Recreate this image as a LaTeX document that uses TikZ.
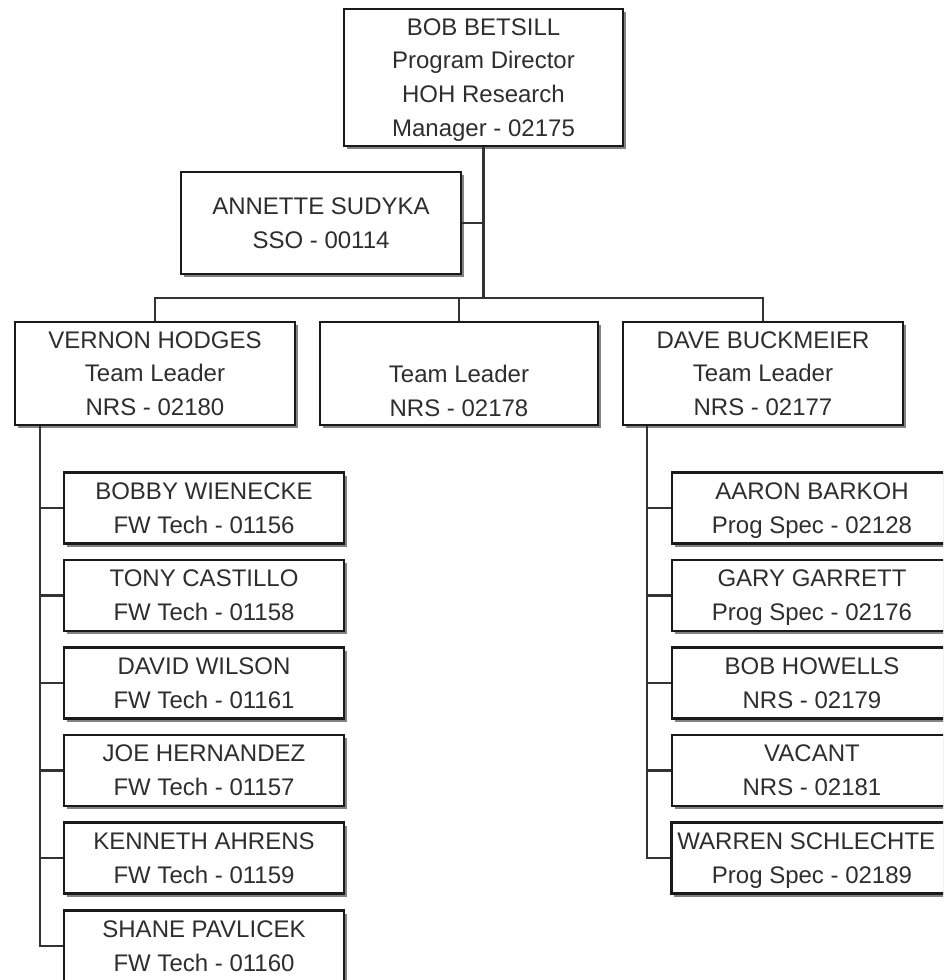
\documentclass[tikz,border=0pt]{standalone}
\usepackage{fontspec}
\setmainfont{Liberation Sans}
\usetikzlibrary{shadows}
\definecolor{txt}{HTML}{2E2E2E}
\definecolor{edge}{HTML}{1A1A1A}
\definecolor{wire}{HTML}{333333}
\begin{document}
\begin{tikzpicture}[x=1pt,y=-1pt,
  card/.style={draw=edge,line width=2.2pt,fill=white,rectangle,inner sep=0pt,
    minimum width=280pt,align=center,text=txt,text depth=0pt,
    font=\fontsize{24}{33.8}\selectfont,
    drop shadow={shadow xshift=3pt,shadow yshift=-3pt,opacity=0.75,fill=black!65}},
  wirestyle/.style={draw=wire,line width=2.2pt}]
\useasboundingbox (0,0) rectangle (943,980);
\clip (0,0) rectangle (943,980);
\fill[white] (0,0) rectangle (943,980);
% top
\node[card,minimum height=137pt,minimum width=279pt] (top) at (483.5,77.5)
  {BOB BETSILL\\Program Director\\HOH Research\\Manager - 02175};
\node[card,minimum height=102pt] (ann) at (321,223) {ANNETTE SUDYKA\\SSO - 00114};
% level 2
\node[card,minimum height=103pt] (v) at (155,373.5) {VERNON HODGES\\Team Leader\\NRS - 02180};
\node[card,minimum height=103pt,minimum width=278pt] (m) at (459,373.5) {\rule{0pt}{17.5pt}\\Team Leader\\NRS - 02178};
\node[card,minimum height=103pt] (d) at (763,373.5) {DAVE BUCKMEIER\\Team Leader\\NRS - 02177};
% left children
\node[card,minimum height=71pt] (l1) at (204,508) {BOBBY WIENECKE\\FW Tech - 01156};
\node[card,minimum height=71pt] (l2) at (204,595.5) {TONY CASTILLO\\FW Tech - 01158};
\node[card,minimum height=71pt] (l3) at (204,683) {DAVID WILSON\\FW Tech - 01161};
\node[card,minimum height=71pt] (l4) at (204,770.5) {JOE HERNANDEZ\\FW Tech - 01157};
\node[card,minimum height=71pt] (l5) at (204,858) {KENNETH AHRENS\\FW Tech - 01159};
\node[card,minimum height=71pt] (l6) at (204,946) {SHANE PAVLICEK\\FW Tech - 01160};
% right children
\node[card,minimum height=71pt] (r1) at (812,508) {AARON BARKOH\\Prog Spec - 02128};
\node[card,minimum height=71pt] (r2) at (812,595.5) {GARY GARRETT\\Prog Spec - 02176};
\node[card,minimum height=71pt] (r3) at (812,683) {BOB HOWELLS\\NRS - 02179};
\node[card,minimum height=71pt] (r4) at (812,770.5) {VACANT\\NRS - 02181};
\node[card,minimum height=71pt] (r5) at (812,858) {\hspace*{6pt}WARREN SCHLECHTE\phantom{R}\\Prog Spec - 02189};
% connectors
\coordinate (bus) at (155,298);
\coordinate (vtop) at ([xshift=26pt]v.south west);
\coordinate (dtop) at ([xshift=25pt]d.south west);
\draw[wirestyle] (top.south) -- (top.south |- bus);
\draw[wirestyle] (ann.east) -- (ann.east -| top.south);
\draw[wirestyle] (v.north) -- (bus) -| (d.north);
\draw[wirestyle] (m.north) -- (m.north |- bus);
\draw[wirestyle] (vtop) |- (l6.west);
\foreach \c in {l1,l2,l3,l4,l5} \draw[wirestyle] (\c.west) -- (\c.west -| vtop);
\draw[wirestyle] (dtop) |- (r5.west);
\foreach \c in {r1,r2,r3,r4} \draw[wirestyle] (\c.west) -- (\c.west -| dtop);
\end{tikzpicture}
\end{document}
